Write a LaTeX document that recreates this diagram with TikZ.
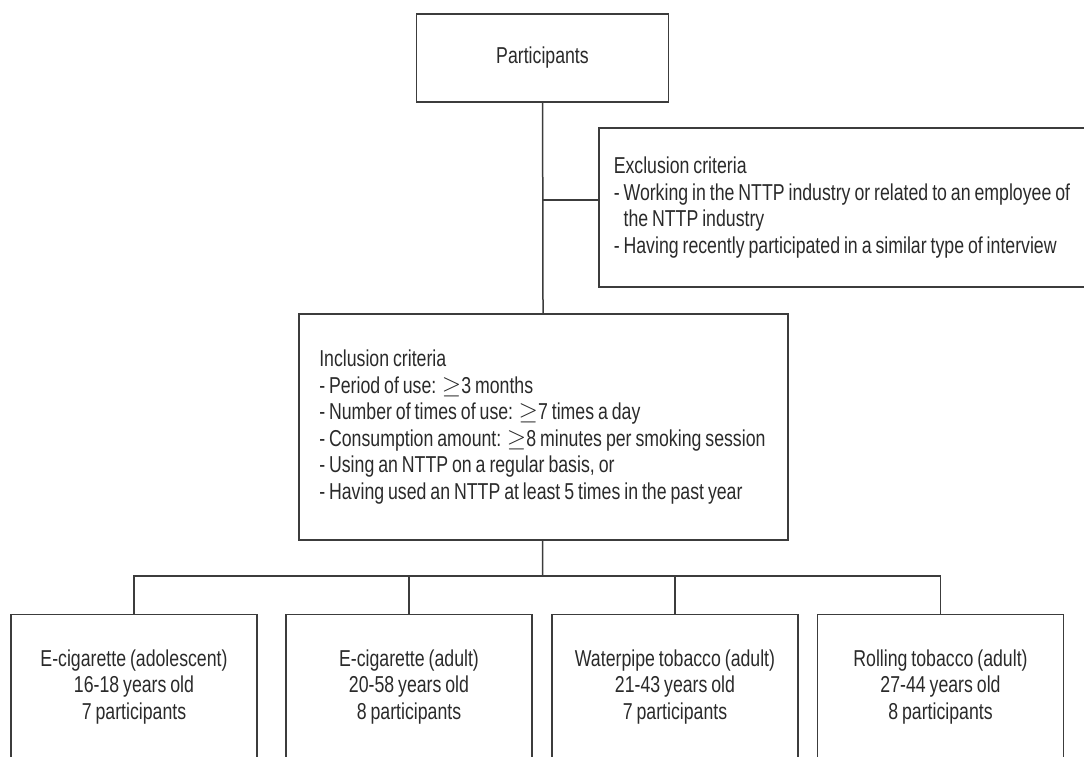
\documentclass[tikz,border=0pt]{standalone}
\usepackage{fontspec}
\setsansfont{Liberation Sans}[FakeStretch=0.77, WordSpace=0.8]
\usepackage{tikz}
\definecolor{boxline}{HTML}{3C3C3C}
\definecolor{boxtext}{HTML}{2A2A2A}

\begin{document}
\begin{tikzpicture}[x=1pt, y=-1pt]

    % Sans-serif text
    \sffamily

    % Frame of the picture
    \useasboundingbox (0, 0) rectangle (1084, 757);
    \clip (0, 0) rectangle (1084, 757);

    % Boxes
    \tikzset{bx/.style={draw=boxline, line width=1.5pt, shape=rectangle, text=boxtext, font=\fontsize{23}{26.6}\selectfont}}
    \tikzset{crit/.style={bx, align=flush left, anchor=west}}
    \tikzset{grp/.style={bx, align=center, minimum width=246pt, minimum height=145pt, inner sep=0pt}}

    % Connectors
    \tikzset{link/.style={draw=boxline, line width=1.5pt}}

    % Flow nodes
    \node (part) [bx, minimum width=252pt, minimum height=88pt] at (542.5, 58) {Participants};
    	\node (excl) [crit, text width=475pt, inner xsep=15pt, minimum height=159pt] at (598, 207.5)
    		{Exclusion criteria\\
    		 - Working in the NTTP industry or related to an employee of\\
    		 \hphantom{-}\ the NTTP industry\\
    		 - Having recently participated in a similar type of interview};
    	\node (incl) [crit, text width=448pt, inner xsep=20.5pt, minimum height=226pt] at (298, 427)
    		{Inclusion criteria\\
    		 - Period of use: $\geq$3 months\\
    		 - Number of times of use: $\geq$7 times a day\\
    		 - Consumption amount: $\geq$8 minutes per smoking session\\
    		 - Using an NTTP on a regular basis, or\\
    		 - Having used an NTTP at least 5 times in the past year};
    		\node (g1) [grp] at (134, 687) {E-cigarette (adolescent)\\16-18 years old\\7 participants};
    		\node (g2) [grp] at (409, 687) {E-cigarette (adult)\\20-58 years old\\8 participants};
    		\node (g3) [grp] at (675, 687) {Waterpipe tobacco (adult)\\21-43 years old\\7 participants};
    		\node (g4) [grp] at (940.5, 687) {Rolling tobacco (adult)\\27-44 years old\\8 participants};

    % Branch points
    \coordinate (side) at (542.5, 200);
    \coordinate (bus) at (542.5, 576);

    % Links
    \path[link] (part) -- (incl);
    	\path[link] (side) -- (side -| excl.west);
    \path[link] (incl) -- (bus);
    	\foreach \g in {g1, g2, g3, g4}
    		\path[link] (bus) -| (\g);

\end{tikzpicture}
\end{document}
